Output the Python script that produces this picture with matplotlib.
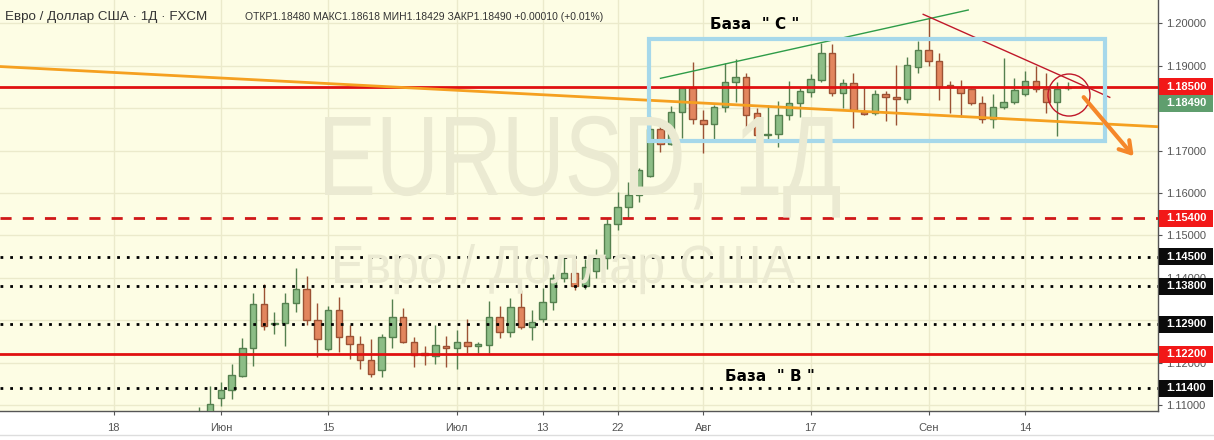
import matplotlib
matplotlib.use("Agg")
import matplotlib.pyplot as plt
import matplotlib.transforms as mtransforms
from matplotlib.patches import Rectangle, Ellipse, PathPatch
from matplotlib.textpath import TextPath
from matplotlib.font_manager import FontProperties
import numpy as np
import pandas as pd

# daily EURUSD candles (FXCM), 2020-05-28 .. 2020-09-18
first_day = "2020-05-28"
opens = [1.1005, 1.1077, 1.1116, 1.1135, 1.1169, 1.1234, 1.1337, 1.1292, 1.1293, 1.1340,
         1.1373, 1.1300, 1.1233, 1.1323, 1.1262, 1.1243, 1.1205, 1.1182, 1.1260, 1.1307,
         1.1249, 1.1222, 1.1216, 1.1240, 1.1234, 1.1249, 1.1238, 1.1241, 1.1308, 1.1273,
         1.1330, 1.1283, 1.1302, 1.1344, 1.1399, 1.1411, 1.1381, 1.1416, 1.1446, 1.1526,
         1.1568, 1.1594, 1.1641, 1.1750, 1.1715, 1.1790, 1.1847, 1.1772, 1.1762, 1.1802,
         1.1861, 1.1874, 1.1788, 1.1737, 1.1738, 1.1783, 1.1811, 1.1837, 1.1866, 1.1929,
         1.1835, 1.1859, 1.1792, 1.1788, 1.1833, 1.1827, 1.1821, 1.1898, 1.1937, 1.1911,
         1.1854, 1.1851, 1.1844, 1.1811, 1.1775, 1.1802, 1.1814, 1.1833, 1.1864, 1.1844,
         1.1814, 1.18480]
highs = [1.1096, 1.1145, 1.1155, 1.1197, 1.1257, 1.1365, 1.1385, 1.1319, 1.1363, 1.1423,
         1.1405, 1.1341, 1.1333, 1.1354, 1.1289, 1.1262, 1.1256, 1.1268, 1.1349, 1.1328,
         1.1260, 1.1240, 1.1289, 1.1263, 1.1277, 1.1302, 1.1249, 1.1345, 1.1334, 1.1353,
         1.1371, 1.1324, 1.1375, 1.1409, 1.1451, 1.1442, 1.1444, 1.1468, 1.1540, 1.1602,
         1.1625, 1.1660, 1.1781, 1.1774, 1.1806, 1.1850, 1.1908, 1.1796, 1.1807, 1.1906,
         1.1916, 1.1882, 1.1800, 1.1807, 1.1817, 1.1864, 1.1847, 1.1881, 1.1953, 1.1952,
         1.1869, 1.1882, 1.1849, 1.1843, 1.1840, 1.1902, 1.1921, 1.1958, 1.2012, 1.1929,
         1.1864, 1.1866, 1.1847, 1.1829, 1.1833, 1.1918, 1.1872, 1.1888, 1.1899, 1.1882,
         1.1862, 1.18618]
lows = [1.0990, 1.1069, 1.1098, 1.1115, 1.1165, 1.1192, 1.1277, 1.1267, 1.1239, 1.1320,
        1.1289, 1.1212, 1.1228, 1.1226, 1.1208, 1.1185, 1.1167, 1.1167, 1.1234, 1.1245,
        1.1190, 1.1194, 1.1196, 1.1190, 1.1184, 1.1222, 1.1222, 1.1222, 1.1257, 1.1261,
        1.1279, 1.1253, 1.1296, 1.1324, 1.1391, 1.1370, 1.1374, 1.1399, 1.1421, 1.1513,
        1.1540, 1.1579, 1.1637, 1.1697, 1.1713, 1.1730, 1.1762, 1.1695, 1.1727, 1.1792,
        1.1815, 1.1754, 1.1733, 1.1725, 1.1709, 1.1772, 1.1780, 1.1827, 1.1862, 1.1829,
        1.1800, 1.1752, 1.1784, 1.1784, 1.1770, 1.1760, 1.1811, 1.1882, 1.1900, 1.1819,
        1.1788, 1.1780, 1.1808, 1.1764, 1.1752, 1.1797, 1.1809, 1.1829, 1.1839, 1.1788,
        1.1734, 1.18429]
closes = [1.1077, 1.1102, 1.1135, 1.1171, 1.1234, 1.1337, 1.1287, 1.1294, 1.1340, 1.1373,
          1.1300, 1.1255, 1.1323, 1.1261, 1.1243, 1.1205, 1.1172, 1.1260, 1.1307, 1.1249,
          1.1218, 1.1218, 1.1241, 1.1234, 1.1249, 1.1239, 1.1244, 1.1308, 1.1271, 1.1330,
          1.1285, 1.1296, 1.1344, 1.1399, 1.1411, 1.1381, 1.1425, 1.1446, 1.1526, 1.1568,
          1.1594, 1.1653, 1.1750, 1.1715, 1.1790, 1.1847, 1.1774, 1.1762, 1.1802, 1.1861,
          1.1874, 1.1783, 1.1736, 1.1738, 1.1783, 1.1811, 1.1840, 1.1868, 1.1929, 1.1835,
          1.1859, 1.1796, 1.1786, 1.1833, 1.1827, 1.1821, 1.1902, 1.1937, 1.1910, 1.1851,
          1.1851, 1.1835, 1.1811, 1.1774, 1.1802, 1.1814, 1.1843, 1.1864, 1.1845, 1.1814,
          1.1846, 1.18490]

tick_dates = ["2020-05-18", "2020-06-01", "2020-06-15", "2020-07-01", "2020-07-13",
              "2020-07-22", "2020-08-03", "2020-08-17", "2020-09-01", "2020-09-14"]
tick_labels = ["18", "Июн", "15", "Июл", "13", "22", "Авг", "17", "Сен", "14"]
price_ticks = [1.11, 1.12, 1.14, 1.15, 1.16, 1.17, 1.19, 1.20]

solid_levels = [1.1850, 1.1220]
dashed_levels = [1.1540]
dotted_levels = [1.1450, 1.1380, 1.1290, 1.1140]
last_price = 1.18490

# drawn objects (bar index, price)
trend_orange = [(-10.6, 1.18981), (97.4, 1.17562)]
trend_green = [(51.0, 1.18703), (79.7, 1.20314)]
trend_red = [(75.5, 1.20212), (92.9, 1.18255)]
box_c = [(49.9, 1.17225), (92.5, 1.19623)]
circle_c = (89.1, 1.18309)
arrow_c = [(90.3, 1.18309), (95.3, 1.16817)]

BG = "#fdfde4"
WM = "#ebead2"
GREEN_FILL, GREEN_EDGE = "#8cbd86", "#55804f"
RED_FILL, RED_EDGE = "#e2865e", "#9c5234"

days = pd.bdate_range("2020-05-18", "2020-09-18")
x0 = days.get_loc(pd.Timestamp(first_day))
idx = np.arange(x0, x0 + len(opens))
o = np.array(opens)
h = np.array(highs)
l = np.array(lows)
c = np.array(closes)

W, H = 1214, 440
fig = plt.figure(figsize=(W / 100, H / 100), dpi=100)
fig.patch.set_facecolor("white")
ax = fig.add_axes([0, (H - 410.5) / H, 1158 / W, 410.5 / H])
ax.set_facecolor(BG)
ax.set_xlim(-10.6, 97.4)
ax.set_ylim(1.1087, 1.2055)

tick_pos = [days.get_loc(pd.Timestamp(d)) for d in tick_dates]
ax.set_xticks(tick_pos)
ax.set_xticklabels(tick_labels, fontsize=8, color="#555555", family="Liberation Sans")
ax.set_yticks(np.arange(1.11, 1.2001, 0.01))
ax.set_yticklabels([f"{t:.5f}" if any(abs(t - p) < 1e-6 for p in price_ticks) else ""
                    for t in np.arange(1.11, 1.2001, 0.01)])
ax.yaxis.tick_right()
ax.tick_params(axis="y", length=3, color="#555555", labelsize=8, labelcolor="#555555", pad=3)
ax.tick_params(axis="x", length=3, color="#555555", pad=6)
for lab in ax.get_yticklabels():
    lab.set_family("Liberation Sans")
ax.grid(True, color="#ebeacb", linewidth=1)
ax.set_axisbelow(True)
for s in ["top", "left"]:
    ax.spines[s].set_visible(False)
for s in ["bottom", "right"]:
    ax.spines[s].set_color("#555555")
    ax.spines[s].set_linewidth(1)


def watermark(text, left, right, baseline, cap):
    # text path stretched into a pixel box (image coords from top-left)
    prop = FontProperties(family="Liberation Sans")
    tp = TextPath((0, 0), text, size=100, prop=prop)
    ref = TextPath((0, 0), "E", size=100, prop=prop).get_extents()
    bb = tp.get_extents()
    sx = (right - left) / bb.width
    sy = cap / ref.height
    t = (mtransforms.Affine2D().translate(-bb.x0, 0).scale(sx / W, sy / H)
         .translate(left / W, (H - baseline) / H) + fig.transFigure)
    fig.add_artist(PathPatch(tp, transform=t, facecolor=WM, edgecolor="none", zorder=0.5))


# candles
up = c >= o
wick_col = np.where(up, GREEN_EDGE, RED_EDGE)
ax.vlines(idx, l, h, colors=wick_col, linewidth=1, zorder=3)
body_lo = np.minimum(o, c)
body_h = np.maximum(np.abs(c - o), 0.00005)
ax.bar(idx, body_h, bottom=body_lo, width=0.6,
       color=np.where(up, GREEN_FILL, RED_FILL), edgecolor=wick_col, linewidth=1, zorder=4)

# horizontal levels
for lv in solid_levels:
    ax.axhline(lv, color="#e01010", linewidth=2, zorder=5)
for lv in dashed_levels:
    ax.axhline(lv, color="#d01818", linewidth=2, linestyle=(0, (4, 4)), zorder=5)
for lv in dotted_levels:
    ax.axhline(lv, color="black", linewidth=2, linestyle=(0, (1, 2.5)), zorder=5)

# trendlines and drawings
(xa, ya), (xb, yb) = trend_orange
ax.plot([xa, xb], [ya, yb], color="#f5a020", linewidth=2, zorder=5)
(xa, ya), (xb, yb) = trend_green
ax.plot([xa, xb], [ya, yb], color="#2e9c48", linewidth=1, zorder=5)
(xa, ya), (xb, yb) = trend_red
ax.plot([xa, xb], [ya, yb], color="#c0182a", linewidth=1, zorder=5)
(xa, ya), (xb, yb) = box_c
ax.add_patch(Rectangle((xa, ya), xb - xa, yb - ya, fill=False, edgecolor="#a6d8ea",
                       linewidth=3, zorder=6))
ax.add_patch(Ellipse(circle_c, 42 / 10.72, 42 / 4241, fill=False, edgecolor="#c0182a",
                     linewidth=1, zorder=6))
(xa, ya), (xb, yb) = arrow_c
ax.annotate("", xy=(xb, yb), xytext=(xa, ya),
            arrowprops=dict(arrowstyle="->,head_length=0.8,head_width=0.5", color="#f5872a",
                            linewidth=3), zorder=7)

ax.text(55.6, 1.1998, "База  \" С \"", fontsize=11, fontweight="bold", ha="left", va="center",
        zorder=7)
ax.text(57.0, 1.1168, "База  \" В \"", fontsize=11, fontweight="bold", ha="left", va="center",
        zorder=7)

# price labels on the right scale
tr = mtransforms.blended_transform_factory(fig.transFigure, ax.transData)
box_h = 17 / 4241
labels = [(lv, lv, "#f21818") for lv in solid_levels + dashed_levels]
labels += [(lv, lv, "#0b0b0b") for lv in dotted_levels]
labels += [(last_price, 1.18121, "#5f9e6e")]
for lv, pos, col in labels:
    ax.add_patch(Rectangle((1159 / W, pos - box_h / 2), 54 / W, box_h, transform=tr,
                           facecolor=col, edgecolor="none", clip_on=False, zorder=10))
    ax.text(1186 / W, pos, f"{lv:.5f}", transform=tr, ha="center", va="center",
            color="white", fontsize=8, fontweight="bold", family="Liberation Sans",
            clip_on=False, zorder=11)

watermark("EURUSD, 1Д", 325, 840, 195, 78)
watermark("Евро / Доллар США", 335, 795, 283, 37)

# header
fig.text(5 / W, 1 - 17 / H, "Евро / Доллар США · 1Д · FXCM", fontsize=9.6,
         color="#333333", va="center", family="Liberation Sans")
fig.text(245 / W, 1 - 17 / H,
         "ОТКР1.18480 МАКС1.18618 МИН1.18429 ЗАКР1.18490 +0.00010 (+0.01%)",
         fontsize=7.5, color="#333333", va="center", family="Liberation Sans")

fig.add_artist(plt.Line2D([0, 1], [1 - 435 / H] * 2, color="#dddddd", linewidth=1))

fig.savefig("out.png", dpi=100, facecolor="white")
